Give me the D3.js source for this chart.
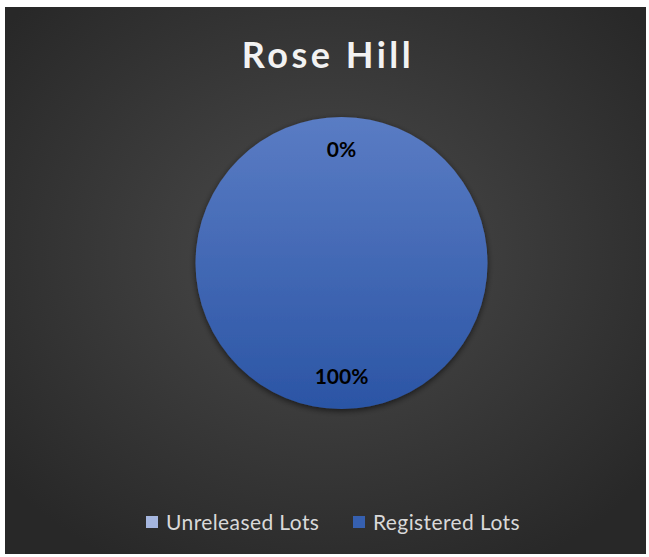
<!DOCTYPE html>
<html><head><meta charset="utf-8">
<script src="https://cdn.jsdelivr.net/npm/d3@7"></script>
<style>html,body{margin:0;padding:0;background:#fff;}</style>
</head><body>
<script>
const title = "Rose Hill";
const categories = ["Unreleased Lots", "Registered Lots"];
const values = [0, 100];
const labels = ["0%", "100%"];
const legendColors = ["#a5b6df", "#3660b0"];

const W = 649, H = 557;
const svg = d3.select("body").append("svg").attr("width", W).attr("height", H);
const defs = svg.append("defs");

const bg = defs.append("radialGradient").attr("id", "bg").attr("cx", "50%").attr("cy", "45%").attr("r", "65%");
bg.append("stop").attr("offset", "0%").attr("stop-color", "#4b4b4b");
bg.append("stop").attr("offset", "100%").attr("stop-color", "#282828");

const pg = defs.append("linearGradient").attr("id", "pg").attr("x1", 0).attr("y1", 0).attr("x2", 0).attr("y2", 1);
pg.append("stop").attr("offset", "0%").attr("stop-color", "#5a7cc4");
pg.append("stop").attr("offset", "100%").attr("stop-color", "#2b55a5");

const sh = defs.append("filter").attr("id", "sh").attr("x", "-20%").attr("y", "-20%").attr("width", "140%").attr("height", "140%");
sh.append("feDropShadow").attr("dx", 0).attr("dy", 2).attr("stdDeviation", 3).attr("flood-color", "#000").attr("flood-opacity", 0.6);

svg.append("rect").attr("x", 5).attr("y", 7).attr("width", 641).attr("height", 547).attr("fill", "url(#bg)");

svg.append("text").attr("x", 328).attr("y", 68).attr("text-anchor", "middle")
  .attr("font-family", "Lato, 'Open Sans', sans-serif").attr("font-weight", "bold")
  .attr("font-size", 36).attr("letter-spacing", 3.5).attr("fill", "#f2f2f2").text(title);

const cx = 341.5, cy = 263, r = 146;
const pie = d3.pie().sort(null).value(d => d);
const arcs = pie(values);
const arc = d3.arc().innerRadius(0).outerRadius(r);
const labelArc = d3.arc().innerRadius(r * 0.78).outerRadius(r * 0.78);

const g = svg.append("g").attr("transform", `translate(${cx},${cy})`);
g.selectAll("path.slice").data(arcs).join("path").attr("class", "slice")
  .attr("d", arc)
  .attr("fill", (d, i) => i === 1 ? "url(#pg)" : legendColors[i])
  .attr("filter", "url(#sh)");

g.selectAll("text.lbl").data(arcs).join("text").attr("class", "lbl")
  .attr("transform", d => { const c = labelArc.centroid(d); return `translate(${c[0]},${c[1]})`; })
  .attr("text-anchor", "middle").attr("dy", "0.36em")
  .attr("font-family", "Lato, 'Open Sans', sans-serif").attr("font-weight", "bold")
  .attr("font-size", 21).attr("fill", "#000")
  .text((d, i) => labels[i]);

const legendX = [146, 353];
const lg = svg.append("g");
categories.forEach((c, i) => {
  lg.append("rect").attr("x", legendX[i]).attr("y", 516).attr("width", 12).attr("height", 12).attr("fill", legendColors[i]);
  lg.append("text").attr("x", legendX[i] + 20).attr("y", 529.5)
    .attr("font-family", "Lato, 'Open Sans', sans-serif").attr("font-size", 21)
    .attr("letter-spacing", 0.4)
    .attr("fill", "#d9d9d9").text(c);
});
</script>
</body></html>
